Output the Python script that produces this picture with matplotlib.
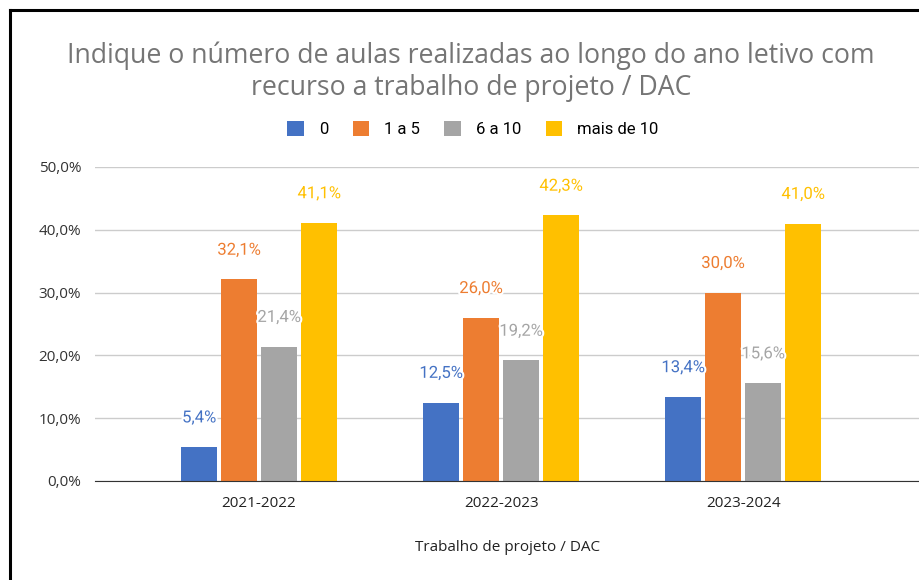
import matplotlib.pyplot as plt
from matplotlib.lines import Line2D
import matplotlib.patheffects as pe
import numpy as np

# dados
anos = ["2021-2022", "2022-2023", "2023-2024"]
series = ["0", "1 a 5", "6 a 10", "mais de 10"]
v_0 = [5.4, 12.5, 13.4]
v_1a5 = [32.1, 26.0, 30.0]
v_6a10 = [21.4, 19.2, 15.6]
v_mais10 = [41.1, 42.3, 41.0]
cores = ["#4472C4", "#ED7D31", "#A5A5A5", "#FFC000"]

valores = [v_0, v_1a5, v_6a10, v_mais10]

W, H = 920, 580
fig = plt.figure(figsize=(W / 100, H / 100), dpi=100)
ax = fig.add_axes([95 / W, 1 - 481 / H, (920 - 95) / W, (481 - 167) / H])

x = np.arange(len(anos))
largura = 36 / 242
passo = 40 / 242
for i, (nome, vals, cor) in enumerate(zip(series, valores, cores)):
    pos = x + (i - 1.5) * passo
    ax.bar(pos, vals, width=largura, color=cor, label=nome, zorder=3)
    for px, v in zip(pos, vals):
        ax.annotate(f"{v:.1f}%".replace(".", ","), (px, v), xytext=(0, 21),
                    textcoords="offset points", ha="center", va="center",
                    color=cor, fontsize=12, family="Roboto", zorder=5,
                    path_effects=[pe.withStroke(linewidth=3, foreground="white")])

ax.set_xlim(-0.678, 2.731)
ax.set_ylim(0, 50)
ax.set_yticks(range(0, 51, 10))
ax.set_yticklabels([f"{t},0%" for t in range(0, 51, 10)], family="Open Sans",
                   fontsize=11, color="#333333")
ax.set_xticks(x)
ax.set_xticklabels(anos, family="Open Sans", fontsize=11, color="#222222")
ax.tick_params(length=0)
ax.tick_params(axis="y", pad=10)
ax.tick_params(axis="x", pad=11)
ax.grid(axis="y", color="#CCCCCC", linewidth=1, zorder=0)
for s in ["top", "right", "left"]:
    ax.spines[s].set_visible(False)
ax.spines["bottom"].set_color("#333333")
ax.spines["bottom"].set_zorder(4)

ax.set_xlabel("Trabalho de projeto / DAC", family="Open Sans", fontsize=11,
              color="#222222", labelpad=21)

fig.text(471 / W, 1 - 72 / H,
         "Indique o número de aulas realizadas ao longo do ano letivo com\nrecurso a trabalho de projeto / DAC",
         ha="center", va="center", family="Open Sans", fontsize=19.2,
         color="#757575", linespacing=1.2)

leg = fig.legend(loc="center", bbox_to_anchor=(473 / W, 1 - 129 / H), ncol=4,
                 frameon=False, prop={"family": "Roboto", "size": 12},
                 handlelength=1.0, handleheight=1.0, columnspacing=1.45,
                 handletextpad=0.9)

# moldura (esquerda e topo)
fig.add_artist(Line2D([10 / W, 10 / W], [0, 1 - 10 / H], color="black",
                      linewidth=2.2, transform=fig.transFigure))
fig.add_artist(Line2D([10 / W, 1], [1 - 10 / H, 1 - 10 / H], color="black",
                      linewidth=2.2, transform=fig.transFigure))

fig.savefig("out.png", dpi=100)
